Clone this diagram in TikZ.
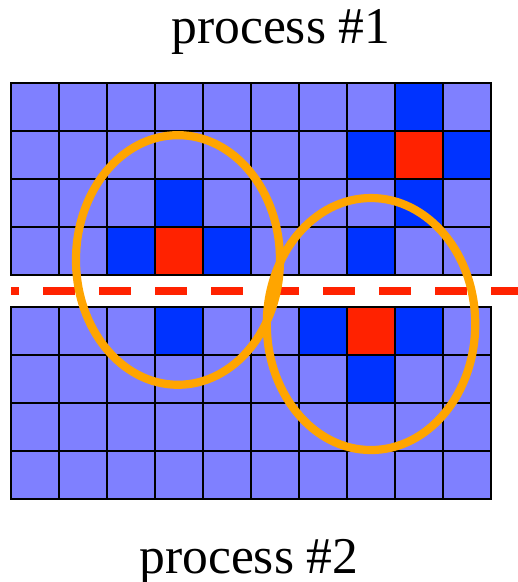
\documentclass[tikz,border=0pt]{standalone}
\usepackage{fontspec}
\setmainfont{Liberation Serif}
\usepackage{tikz}
\usetikzlibrary{calc}
\definecolor{cellcol}{HTML}{7F80FF}
\definecolor{nbrcol}{HTML}{0033FF}
\definecolor{ptcol}{HTML}{FF2200}
\definecolor{halocol}{HTML}{FFA500}

\begin{document}
\begin{tikzpicture}[font=\fontsize{21.4}{25}\selectfont]
\useasboundingbox (-0.1604,-4.477) rectangle (7.379,4.010);
% top grid, owned by process 1
\foreach \i in {0,...,9}{
  \foreach \j in {0,...,3}{
    \draw[fill=cellcol, line width=0.6pt] (\i*0.7,\j*0.7) rectangle (\i*0.7+0.7,\j*0.7+0.7);
  }
}
% bottom grid, owned by process 2
\foreach \i in {0,...,9}{
  \foreach \j in {0,...,3}{
    \draw[fill=cellcol, line width=0.6pt] (\i*0.7,\j*0.7-3.2667) rectangle (\i*0.7+0.7,\j*0.7-2.5667);
  }
}
% stencil cells in the top grid
\foreach \i/\j/\c in {8/3/nbrcol,7/2/nbrcol,8/2/ptcol,9/2/nbrcol,3/1/nbrcol,8/1/nbrcol,2/0/nbrcol,3/0/ptcol,4/0/nbrcol,7/0/nbrcol}{
  \draw[fill=\c, line width=0.6pt] (\i*0.7,\j*0.7) rectangle (\i*0.7+0.7,\j*0.7+0.7);
}
% stencil cells in the bottom grid
\foreach \i/\j/\c in {3/3/nbrcol,6/3/nbrcol,7/3/ptcol,8/3/nbrcol,7/2/nbrcol}{
  \draw[fill=\c, line width=0.6pt] (\i*0.7,\j*0.7-3.2667) rectangle (\i*0.7+0.7,\j*0.7-2.5667);
}
% partition boundary
\draw[ptcol, line width=3.3pt, dash pattern=on 0.467cm off 0.35cm, dash phase=0.35cm] (0,-0.2333) -- (7.5,-0.2333);
% stencils crossing the boundary
\draw[halocol, line width=3.4pt] (2.435,0.219) ellipse [x radius=1.4875, y radius=1.82];
\draw[halocol, line width=3.4pt] (5.25,-0.715) ellipse [x radius=1.52, y radius=1.8375];
% process labels
\node[anchor=base] (proc1) at (3.9375,3.369) {process \#1};
\node[anchor=base] (proc2) at (3.471,-4.360) {process \#2};
\end{tikzpicture}
\end{document}
